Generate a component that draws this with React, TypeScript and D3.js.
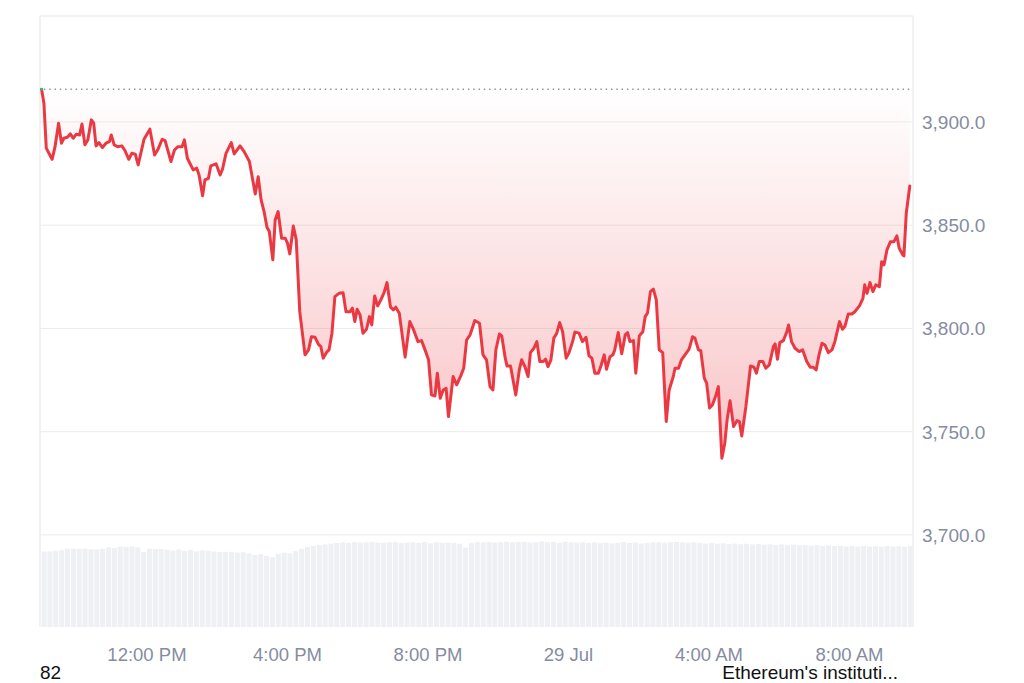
import React from "react";
import * as d3 from "d3";

// ---- data ----
// minutes since 28 Jul 09:00
const priceMinutes = [
  0, 4, 8, 18, 23, 29, 34, 38, 44, 49, 54, 59, 65, 69, 74, 79, 85, 89, 93, 98, 104, 110, 116, 119, 124, 130, 137, 142, 149, 154,
  160, 165, 175, 185, 193, 199, 206, 211, 221, 227, 233, 240, 244, 249,
  259, 265, 269, 275, 279, 285, 289, 298, 305, 309, 315, 324, 329, 339, 346, 355, 365, 370, 375, 380, 385, 389, 395, 399, 404, 410,
  416, 420, 424, 430, 435, 441, 450, 456, 461, 467, 473, 477, 481, 487, 491, 496, 501, 508, 515, 520,
  527, 531, 535, 539, 544, 549, 555, 560, 564, 569, 574, 579, 585, 590, 596, 601, 605, 611, 621, 629, 635, 643, 649, 655, 661, 666,
  672, 676, 681, 686, 691, 695, 703, 709, 716, 721, 726, 732, 740, 748, 754, 760, 766, 771, 776, 782, 786,
  792, 795, 801, 810, 816, 820, 826, 831, 835, 841, 846, 851, 857, 861, 865, 870, 875, 880, 885, 890, 896, 901, 907, 911, 918, 924,
  930, 935, 940, 945, 951, 956, 961, 965, 971, 976, 979, 985, 991, 997, 1001, 1005, 1011, 1015, 1021,
  1027, 1031, 1035, 1040, 1045, 1050, 1055, 1061, 1067, 1072, 1079, 1082, 1088, 1093, 1099, 1106, 1112, 1116, 1122, 1126, 1132, 1136,
  1141, 1146, 1152, 1156, 1162, 1167, 1171, 1176, 1182, 1188, 1192, 1196, 1203, 1211, 1217, 1221, 1226, 1232, 1237, 1243, 1250, 1253,
  1257, 1261, 1267, 1273,
  1276, 1281, 1287, 1294, 1300, 1307, 1313, 1318, 1323, 1328, 1333, 1338, 1344, 1350, 1355, 1363, 1368, 1372, 1378, 1384, 1389, 1397,
  1403, 1406, 1410, 1415, 1420, 1425, 1431, 1435, 1439, 1444, 1450, 1456, 1461, 1465, 1471, 1473, 1477, 1483,
];

const prices = [
  3915.8, 3909.1, 3887.3, 3881.9, 3888.0, 3899.4, 3889.7, 3892.1, 3892.6, 3894.2, 3892.1, 3894.0, 3893.7, 3899.0, 3888.9, 3891.3,
  3901.0, 3899.4, 3888.4, 3890.0, 3887.6, 3889.7, 3890.5, 3893.7, 3888.9, 3888.0, 3888.4, 3886.4, 3881.9, 3884.8, 3884.4, 3879.2,
  3891.6, 3896.5, 3884.0, 3886.8, 3891.6, 3890.9, 3880.8, 3886.4, 3888.0, 3888.0, 3891.3, 3882.4,
  3876.8, 3877.6, 3874.3, 3864.2, 3871.9, 3872.7, 3878.7, 3879.7, 3874.3, 3877.1, 3884.8, 3890.0, 3884.5, 3888.4, 3885.6, 3880.8,
  3865.1, 3873.5, 3862.2, 3856.6, 3849.0, 3846.9, 3833.2, 3852.5, 3856.6, 3843.7, 3843.7, 3841.3, 3836.1, 3849.6, 3842.9, 3808.1,
  3787.2, 3789.6, 3796.0, 3795.7, 3792.3, 3791.2, 3785.6, 3788.5, 3789.6, 3797.7, 3815.4, 3817.0, 3817.3, 3808.1,
  3808.1, 3809.8, 3803.3, 3809.3, 3806.5, 3797.7, 3799.6, 3805.7, 3801.7, 3815.7, 3810.9, 3813.5, 3817.3, 3822.2, 3810.3, 3809.0,
  3810.3, 3807.4, 3786.1, 3803.3, 3799.6, 3793.6, 3794.1, 3789.6, 3784.8, 3767.8, 3767.3, 3778.3, 3766.2, 3770.2, 3771.0, 3757.3,
  3776.7, 3772.7, 3777.0, 3780.7, 3794.4, 3796.9, 3803.8, 3802.5, 3787.2, 3784.8, 3771.8, 3770.2, 3789.6, 3797.3, 3796.4,
  3785.6, 3781.8, 3781.8, 3767.8, 3779.9, 3784.8, 3781.2, 3776.7, 3788.3, 3790.4, 3793.6, 3784.0, 3784.0, 3785.1, 3781.5, 3784.8,
  3795.3, 3797.7, 3802.8, 3798.4, 3785.6, 3788.3, 3793.6, 3798.2, 3797.7, 3793.6, 3795.7, 3786.7, 3785.6, 3778.3, 3778.3, 3782.3,
  3787.2, 3780.2, 3786.3, 3787.2, 3789.6, 3798.0, 3787.7, 3796.9, 3798.0, 3793.6, 3794.1, 3778.3, 3796.4,
  3798.4, 3805.7, 3807.4, 3817.8, 3819.0, 3813.8, 3789.6, 3788.3, 3754.9, 3770.2, 3776.7, 3780.7, 3780.7, 3784.8, 3787.2, 3790.0,
  3796.0, 3795.3, 3789.6, 3789.2, 3775.9, 3773.5, 3761.4, 3763.0, 3767.8, 3771.8, 3737.1, 3744.4, 3755.7, 3765.0, 3752.5, 3755.4,
  3754.9, 3747.9, 3762.1, 3781.8, 3781.2, 3778.3, 3784.0, 3784.0, 3780.7, 3782.3, 3791.2, 3792.5, 3785.1, 3793.1, 3794.1, 3798.4,
  3801.7, 3793.6, 3790.4, 3788.8, 3789.6, 3784.0, 3781.2, 3781.2, 3779.9, 3787.2, 3792.8, 3792.0, 3788.3, 3789.6, 3793.6, 3803.3,
  3799.6, 3800.9, 3807.0, 3807.0, 3808.1, 3810.9, 3814.6, 3821.1, 3817.0, 3822.2, 3817.8, 3821.1, 3820.2, 3832.3, 3830.8, 3838.0,
  3842.0, 3842.0, 3844.8, 3838.8, 3835.6, 3835.1, 3855.8, 3869.0,
];

// 24h volume (billions), one bar per 10 minutes from 09:00
const volumeStepMinutes = 10;
const volumes = [
  32.8, 32.9, 33.2, 33.4, 34.0, 34.1, 34.0, 34.1, 33.8, 33.7, 34.0, 34.6, 34.3, 34.9, 34.8, 35.0, 34.6, 32.6, 34.0, 33.8,
  33.9, 33.6, 33.2, 33.7, 33.1, 33.4, 32.9, 33.3, 33.2, 32.8, 32.6, 32.7, 32.6, 32.4, 32.5, 32.0, 31.3, 31.7, 30.9, 30.3,
  31.8, 32.3, 32.0, 33.0, 34.0, 34.8, 35.3, 35.6, 35.9, 36.2, 36.5, 36.8, 36.6, 36.9, 36.7, 36.8, 37.0, 36.7, 36.6, 36.8,
  36.9, 36.5, 36.7, 36.8, 36.6, 36.9, 36.4, 36.8, 36.6, 36.7, 36.5, 36.2, 34.5, 36.6, 36.9, 36.8, 37.0, 36.7, 36.9, 37.1,
  36.8, 36.9, 37.0, 36.7, 36.9, 37.2, 36.9, 37.0, 36.6, 37.0, 36.8, 36.7, 36.9, 36.6, 36.8, 36.5, 36.7, 36.4, 36.6, 36.9,
  36.5, 36.7, 36.3, 36.6, 36.8, 36.9, 36.7, 36.9, 37.0, 36.8, 36.6, 36.8, 36.5, 36.3, 36.5, 36.2, 36.4, 36.1, 36.3, 36.0,
  36.2, 35.9, 36.1, 35.8, 36.0, 35.7, 35.9, 35.6, 35.8, 35.5, 35.7, 35.4, 35.6, 35.3, 35.5, 35.2, 35.4, 35.1, 35.3, 35.0,
  35.2, 34.9, 35.1, 34.9, 35.2, 35.0, 35.1, 34.9, 35.2,
];

const baselinePrice = 3915.8;
const yTicks = [3700, 3750, 3800, 3850, 3900];
const xTickMinutes = [180, 420, 660, 900, 1140, 1380];
const xTickLabels = ["12:00 PM", "4:00 PM", "8:00 PM", "29 Jul", "4:00 AM", "8:00 AM"];
const footerLeft = "82";
const footerRight = "Ethereum's instituti...";

const START = new Date(2024, 6, 28, 9, 0).getTime();
const toDate = (m: number) => new Date(START + m * 60000);

export default function App() {
  const W = 1024, H = 683;
  const left = 40, right = 913, top = 16, bottom = 627;

  const x = d3.scaleTime().domain([toDate(-2.7), toDate(1488.5)]).range([left, right]);
  const y = d3.scaleLinear().domain([3655.4, 3951.3]).range([bottom, top]);
  const yVol = d3.scaleLinear().domain([0, 40]).range([bottom, 535]);

  const pts = priceMinutes.map((m, i) => ({ d: toDate(m), p: prices[i] }));
  const line = d3.line<any>().x((d) => x(d.d)).y((d) => y(d.p));
  const area = d3.area<any>().x((d) => x(d.d)).y0(y(baselinePrice)).y1((d) => y(d.p));
  const minP = d3.min(prices) as number;

  const fmt = (v: number) => d3.format(",.1f")(v);
  const font = "'Liberation Sans', Arial, sans-serif";
  const grey = "#858ca2";

  return (
    <svg width={W} height={H} style={{ position: "absolute", left: 0, top: 0, background: "#fff" }} fontFamily={font}>
      <defs>
        <linearGradient id="redFill" gradientUnits="userSpaceOnUse" x1="0" x2="0" y1={y(baselinePrice)} y2={y(minP)}>
          <stop offset="0%" stopColor="#ea3943" stopOpacity={0.0} />
          <stop offset="100%" stopColor="#ea3943" stopOpacity={0.3} />
        </linearGradient>
      </defs>

      {/* volume bars */}
      {volumes.map((v, i) => {
        const x0 = x(toDate(i * volumeStepMinutes));
        const x1 = x(toDate((i + 1) * volumeStepMinutes));
        return (
          <rect key={i} x={x0} y={yVol(v)} width={Math.max(0, Math.min(x1, right) - x0 - 0.8)} height={bottom - yVol(v)} fill="#eef0f4" />
        );
      })}

      {/* gridlines */}
      {yTicks.map((t) => (
        <line key={t} x1={left} x2={right} y1={y(t)} y2={y(t)} stroke="#ececec" strokeWidth={1} />
      ))}

      {/* frame */}
      <line x1={left} x2={right} y1={top} y2={top} stroke="#eeeeee" strokeWidth={1.5} />
      <line x1={left} x2={left} y1={top} y2={bottom} stroke="#eeeeee" strokeWidth={1.5} />
      <line x1={right} x2={right} y1={top} y2={bottom} stroke="#eeeeee" strokeWidth={1.5} />

      {/* area + line */}
      <path d={area(pts) as string} fill="url(#redFill)" />
      <line x1={x(toDate(4))} x2={right} y1={y(baselinePrice)} y2={y(baselinePrice)} stroke="#8f8f8f" strokeWidth={1.4} strokeDasharray="1.4 3.9" />
      <path d={line(pts) as string} fill="none" stroke="#ea3943" strokeWidth={3} strokeLinejoin="round" strokeLinecap="round" />
      <circle cx={x(pts[0].d)} cy={y(pts[0].p)} r={1.4} fill="#16c784" />

      {/* y axis labels */}
      {yTicks.map((t) => (
        <text key={t} x={922} y={y(t)} dy="0.36em" fontSize={19} fill={grey}>
          {fmt(t)}
        </text>
      ))}

      {/* x axis labels */}
      {xTickMinutes.map((m, i) => (
        <text key={m} x={x(toDate(m))} y={661} textAnchor="middle" fontSize={18.5} fill={grey}>
          {xTickLabels[i]}
        </text>
      ))}

      {/* footer */}
      <text x={40} y={679} fontSize={19} fill="#111">{footerLeft}</text>
      <text x={898} y={679} textAnchor="end" fontSize={19} fill="#111">{footerRight}</text>
    </svg>
  );
}
